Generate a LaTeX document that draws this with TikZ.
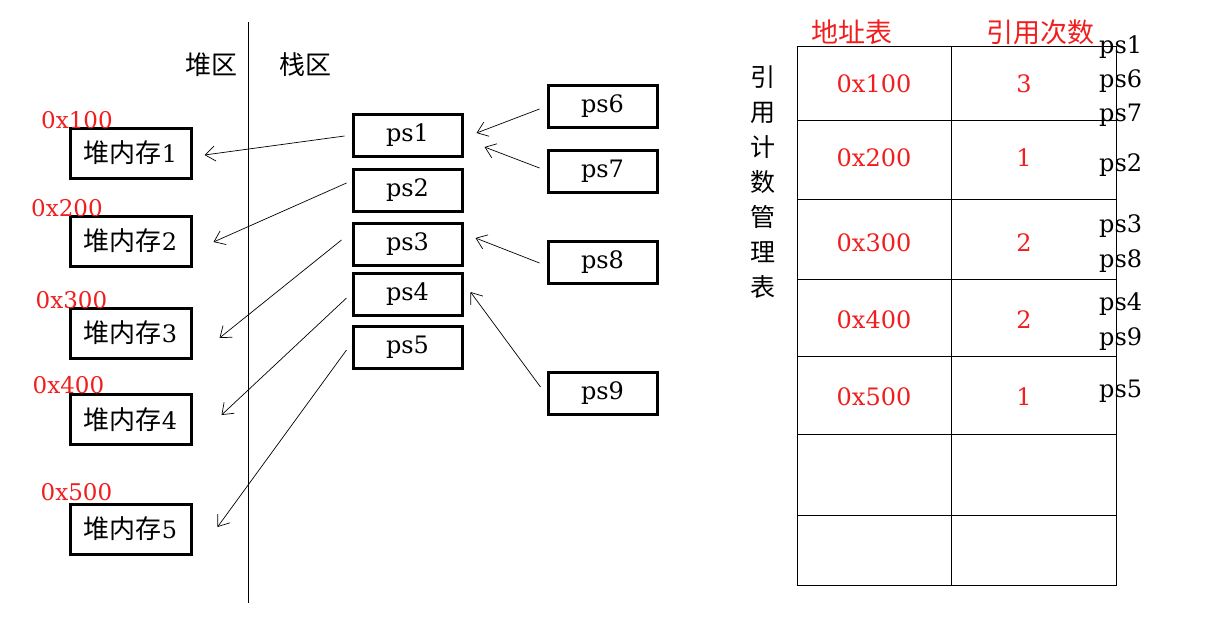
\documentclass[tikz,border=0pt]{standalone}
\usepackage{fontspec}
\setmainfont{DejaVu Serif}
\newfontfamily\cjk{Noto Sans CJK SC}
\usetikzlibrary{arrows.meta}
\definecolor{lred}{RGB}{240,30,30}
\tikzset{
  heapbox/.style={draw, line width=3pt, minimum width=121pt, minimum height=50pt, inner sep=0pt, font=\fontsize{24}{28}\selectfont},
  psbox/.style={draw, line width=3pt, minimum width=109pt, minimum height=42pt, inner sep=0pt, font=\fontsize{24}{28}\selectfont},
  addr/.style={text=lred, inner sep=0pt, font=\fontsize{23}{27}\selectfont},
  cell/.style={text=lred, inner sep=0pt, font=\fontsize{24}{28}\selectfont},
  pslab/.style={anchor=base west, inner sep=0pt, font=\fontsize{24}{28}\selectfont},
  cjklab/.style={inner sep=0pt, font=\fontsize{26}{30}\selectfont\cjk},
  arr/.style={line width=0.7pt, -{Straight Barb[length=10pt,width=15pt,line width=0.7pt]}},
  grid/.style={line width=1pt}
}
\begin{document}
\begin{tikzpicture}[x=1pt,y=-1pt]
\useasboundingbox (0,0) rectangle (1214,643);
% divider
\draw[line width=1pt] (248,22) -- (248,603);
\node[cjklab] (heaparea) at (211,65) {堆区};
\node[cjklab] (stackarea) at (305,65) {栈区};
% heap boxes
\node[heapbox] (h1) at (130.5,153) {{\fontsize{26}{30}\selectfont\cjk 堆内存}1};
\node[heapbox] (h2) at (130.5,241) {{\fontsize{26}{30}\selectfont\cjk 堆内存}2};
\node[heapbox] (h3) at (130.5,333) {{\fontsize{26}{30}\selectfont\cjk 堆内存}3};
\node[heapbox] (h4) at (130.5,419.5) {{\fontsize{26}{30}\selectfont\cjk 堆内存}4};
\node[heapbox] (h5) at (130.5,529) {{\fontsize{26}{30}\selectfont\cjk 堆内存}5};
\node[addr] (a1) at (77,120) {0x100};
\node[addr] (a2) at (67,208) {0x200};
\node[addr] (a3) at (71.5,300) {0x300};
\node[addr] (a4) at (68.5,385) {0x400};
\node[addr] (a5) at (76.5,492) {0x500};
% stack boxes
\node[psbox] (ps1) at (407.5,135) {ps1};
\node[psbox] (ps2) at (407.5,190) {ps2};
\node[psbox] (ps3) at (407.5,244) {ps3};
\node[psbox] (ps4) at (407.5,294) {ps4};
\node[psbox] (ps5) at (407.5,347) {ps5};
\node[psbox] (ps6) at (602.5,106) {ps6};
\node[psbox] (ps7) at (602.5,171) {ps7};
\node[psbox] (ps8) at (602.5,262) {ps8};
\node[psbox] (ps9) at (602.5,393) {ps9};
% arrows
\draw[arr] ([shift={(-7,1)}]ps1.west) -- ([shift={(12,2)}]h1.east);
\draw[arr] ([shift={(-5,-7)}]ps2.west) -- ([shift={(21,1)}]h2.east);
\draw[arr] ([shift={(-10,-4)}]ps3.west) -- ([shift={(27,5)}]h3.east);
\draw[arr] ([shift={(-5,4)}]ps4.west) -- ([shift={(29,-4.5)}]h4.east);
\draw[arr] ([shift={(-5,3)}]ps5.west) -- ([shift={(25,-2)}]h5.east);
\draw[arr] ([shift={(-7,3)}]ps6.west) -- ([shift={(13,-2)}]ps1.east);
\draw[arr] ([shift={(-7,-3)}]ps7.west) -- ([shift={(21,12)}]ps1.east);
\draw[arr] ([shift={(-7,1)}]ps8.west) -- ([shift={(12,-6)}]ps3.east);
\draw[arr] ([shift={(-6,-6)}]ps9.west) -- ([shift={(7,-2)}]ps4.east);
% table
\draw[grid] (797,46) rectangle (1116,585);
\draw[grid] (951,46) -- (951,585);
\foreach \yy in {120,199,279,356,434,515} \draw[grid] (797,\yy) -- (1116,\yy);
\node[text=lred, inner sep=0pt, font=\fontsize{27}{31}\selectfont\cjk] (th1) at (852,32) {地址表};
\node[text=lred, inner sep=0pt, font=\fontsize{27}{31}\selectfont\cjk] (th2) at (1040,32) {引用次数};
\node[align=center, inner sep=0pt, font=\fontsize{25}{35}\selectfont\cjk] (vt) at (763,182) {引\\用\\计\\数\\管\\理\\表};
\node[cell] (c11) at (874,84) {0x100};
\node[cell] (c12) at (1024,84) {3};
\node[cell] (c21) at (874,158) {0x200};
\node[cell] (c22) at (1024,158) {1};
\node[cell] (c31) at (874,243) {0x300};
\node[cell] (c32) at (1024,243) {2};
\node[cell] (c41) at (874,320) {0x400};
\node[cell] (c42) at (1024,320) {2};
\node[cell] (c51) at (874,397) {0x500};
\node[cell] (c52) at (1024,397) {1};
% right labels
\node[pslab] (r1) at (1099,53) {ps1};
\node[pslab] (r6) at (1099,87) {ps6};
\node[pslab] (r7) at (1099,121) {ps7};
\node[pslab] (r2) at (1099,171) {ps2};
\node[pslab] (r3) at (1099,232) {ps3};
\node[pslab] (r8) at (1099,267) {ps8};
\node[pslab] (r4) at (1099,310) {ps4};
\node[pslab] (r9) at (1099,345) {ps9};
\node[pslab] (r5) at (1099,397) {ps5};
\end{tikzpicture}
\end{document}
